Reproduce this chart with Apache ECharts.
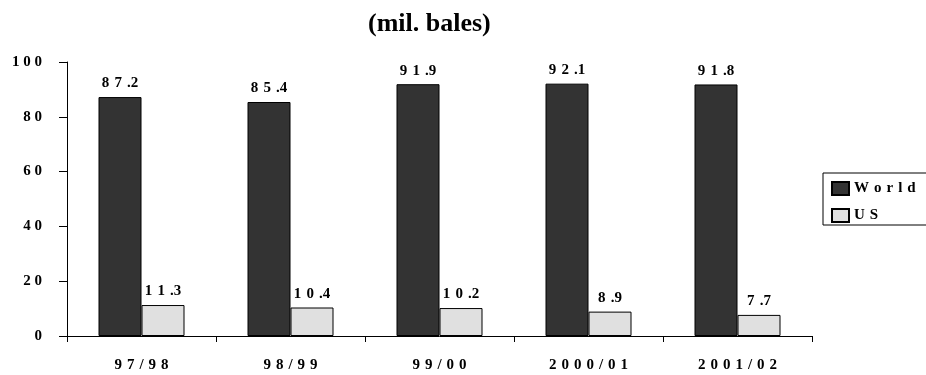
<!DOCTYPE html>
<html>
<head>
<meta charset="utf-8">
<script src="https://cdn.jsdelivr.net/npm/echarts@6/dist/echarts.min.js"></script>
<style>
  html, body { margin: 0; padding: 0; background: #fff; }
  #chart { width: 926px; height: 375px; }
</style>
</head>
<body>
<div id="chart"></div>
<script>
// Cotton production, million bales
const seasons = ['97/98', '98/99', '99/00', '2000/01', '2001/02'];
const worldValues = [87.2, 85.4, 91.9, 92.1, 91.8];
const usValues = [11.3, 10.4, 10.2, 8.9, 7.7];
const yTicks = { min: 0, max: 100, step: 20 };

const FONT = '"Liberation Serif", "Times New Roman", serif';
const GAP = '\u2004';

// widely spaced characters, as in the printed report style
function spaced(s, gap) {
  return String(s).split('').join(gap);
}
function spacedValue(v) {
  const s = v.toFixed(1);
  let out = '';
  for (let i = 0; i < s.length; i++) {
    out += s[i];
    if (i < s.length - 1 && s[i] !== '.') out += GAP;
  }
  return out;
}

const labelStyle = {
  show: true,
  position: 'top',
  distance: 6,
  color: '#000',
  fontFamily: FONT,
  fontWeight: 'bold',
  fontSize: 15,
  formatter: p => spacedValue(p.value)
};

const chart = echarts.init(document.getElementById('chart'));
chart.setOption({
  animation: false,
  backgroundColor: '#fff',
  title: {
    text: '(mil. bales)',
    left: 363,
    top: 6,
    textStyle: { fontFamily: FONT, fontWeight: 'bold', fontSize: 26, color: '#000' }
  },
  legend: {
    orient: 'vertical',
    left: 823,
    top: 173,
    padding: [8, 30, 2, 8],
    itemGap: 12,
    itemWidth: 17,
    itemHeight: 13,
    borderColor: '#000',
    borderWidth: 1,
    icon: 'rect',
    formatter: name => spaced(name, GAP),
    textStyle: { fontFamily: FONT, fontWeight: 'bold', fontSize: 15, color: '#000' },
    data: ['World', 'US']
  },
  grid: { left: 67, right: 114, top: 62, bottom: 39 },
  xAxis: {
    type: 'category',
    data: seasons,
    axisLine: { lineStyle: { color: '#000', width: 1 } },
    axisTick: { show: true, alignWithLabel: false, length: 6, lineStyle: { color: '#000' } },
    axisLabel: {
      margin: 22,
      color: '#000',
      fontFamily: FONT,
      fontWeight: 'bold',
      fontSize: 15,
      formatter: v => spaced(v, GAP)
    }
  },
  yAxis: {
    type: 'value',
    min: yTicks.min,
    max: yTicks.max,
    interval: yTicks.step,
    axisLine: { show: true, lineStyle: { color: '#000', width: 1 } },
    axisTick: { show: true, length: 8, lineStyle: { color: '#000' } },
    splitLine: { show: false },
    axisLabel: {
      margin: 25,
      color: '#000',
      fontFamily: FONT,
      fontWeight: 'bold',
      fontSize: 15,
      formatter: v => spaced(v, ' ')
    }
  },
  series: [
    {
      name: 'World',
      type: 'bar',
      data: worldValues,
      barWidth: 43,
      barGap: '0%',
      itemStyle: { color: '#333333', borderColor: '#000', borderWidth: 1 },
      label: labelStyle
    },
    {
      name: 'US',
      type: 'bar',
      data: usValues,
      barWidth: 43,
      itemStyle: { color: '#e0e0e0', borderColor: '#000', borderWidth: 1 },
      label: labelStyle
    }
  ]
});
</script>
</body>
</html>
